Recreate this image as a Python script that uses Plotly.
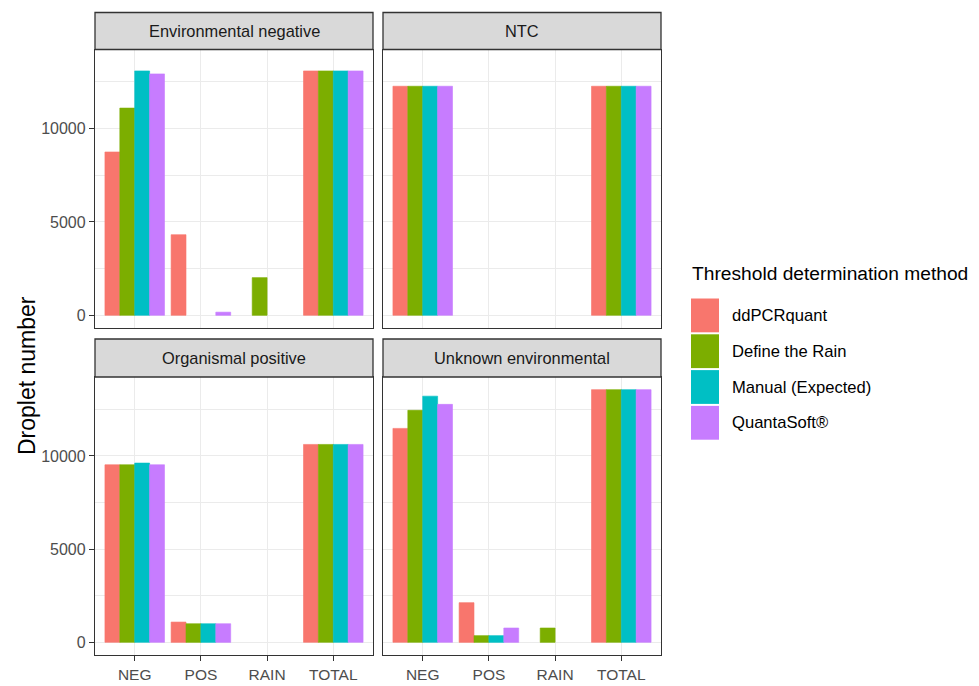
import plotly.graph_objects as go

# ---------------- data ----------------
categories = ["NEG", "POS", "RAIN", "TOTAL"]
methods = ["ddPCRquant", "Define the Rain", "Manual (Expected)", "QuantaSoft®"]
colors = ["#F8766D", "#7CAE00", "#00BFC4", "#C77CFF"]
facets = ["Environmental negative", "NTC", "Organismal positive", "Unknown environmental"]
y_ticks = [0, 5000, 10000]
y_tick_labels = ["0", "5000", "10000"]
y_minor_ticks = [2500, 7500, 12500]

# values per method (order of `methods`), per category (order of `categories`)
env_negative = [
    [8750, 4320, 0, 13090],
    [11100, 0, 2020, 13090],
    [13090, 0, 0, 13090],
    [12930, 170, 0, 13090],
]
ntc = [
    [12270, 0, 0, 12270],
    [12270, 0, 0, 12270],
    [12270, 0, 0, 12270],
    [12270, 0, 0, 12270],
]
organismal_positive = [
    [9530, 1090, 0, 10620],
    [9530, 1000, 0, 10620],
    [9620, 1000, 0, 10620],
    [9530, 1000, 0, 10620],
]
unknown_environmental = [
    [11480, 2130, 0, 13560],
    [12450, 360, 770, 13560],
    [13210, 360, 0, 13560],
    [12770, 770, 0, 13560],
]
facet_values = [env_negative, ntc, organismal_positive, unknown_environmental]

# ---------------- layout geometry (pixels) ----------------
W, H = 979, 686
col_px = [(95, 373), (383, 661)]
row_strip = [(12.5, 49.5), (339, 377)]
row_plot = [(49.5, 328), (377, 655)]

FONT = "Liberation Sans, Arial, sans-serif"


def fx(px):
    return px / W


def fy(py):
    return 1 - py / H


ymax = max(max(max(s) for s in fv) for fv in facet_values)
pad = 0.05 * ymax
y_range = [-pad, ymax + pad]

fig = go.Figure()
shapes = []
annotations = []

for i, (name, vals) in enumerate(zip(facets, facet_values)):
    r, c = divmod(i, 2)
    ax = "" if i == 0 else str(i + 1)
    for m, (meth, col) in enumerate(zip(methods, colors)):
        widths = [0.6 if v > 0 else 0 for v in vals[m]]
        fig.add_trace(go.Bar(
            x=categories, y=vals[m], name=meth,
            marker=dict(color=col, line=dict(width=widths, color=col)),
            xaxis="x" + ax, yaxis="y" + ax, showlegend=False,
        ))
    x0, x1 = col_px[c]
    p0, p1 = row_plot[r]
    bottom = r == 1
    left = c == 0
    fig.layout["xaxis" + ax] = dict(
        domain=[fx(x0), fx(x1)], anchor="y" + ax,
        type="category", categoryorder="array", categoryarray=categories,
        range=[-0.6, len(categories) - 0.4],
        showgrid=True, gridcolor="#EBEBEB", gridwidth=1.1,
        showline=True, mirror=True, linecolor="#333333", linewidth=1.3,
        ticks="outside" if bottom else "", ticklen=5, tickcolor="#333333", tickwidth=1.1,
        showticklabels=bottom,
        tickfont=dict(family=FONT, size=15.5, color="#4D4D4D"),
        zeroline=False, fixedrange=True,
    )
    fig.layout["yaxis" + ax] = dict(
        domain=[fy(p1), fy(p0)], anchor="x" + ax,
        range=y_range, tickvals=y_ticks, ticktext=y_tick_labels,
        showgrid=True, gridcolor="#EBEBEB", gridwidth=1.1,
        minor=dict(tickvals=y_minor_ticks, showgrid=True, gridcolor="#EBEBEB", gridwidth=0.6),
        showline=True, mirror=True, linecolor="#333333", linewidth=1.3,
        ticks="outside" if left else "", ticklen=5, tickcolor="#333333", tickwidth=1.1,
        showticklabels=left,
        tickfont=dict(family=FONT, size=16, color="#4D4D4D"),
        zeroline=False, fixedrange=True,
    )
    s0, s1 = row_strip[r]
    shapes.append(dict(type="rect", xref="paper", yref="paper",
                       x0=fx(x0), x1=fx(x1), y0=fy(s1), y1=fy(s0),
                       fillcolor="#D9D9D9", line=dict(color="#333333", width=1.3), layer="above"))
    annotations.append(dict(xref="paper", yref="paper", x=fx((x0 + x1) / 2), y=fy((s0 + s1) / 2),
                            text=name, showarrow=False, xanchor="center", yanchor="middle",
                            font=dict(family=FONT, size=16.4, color="#1A1A1A")))

# y axis title
annotations.append(dict(xref="paper", yref="paper", x=fx(27), y=fy(376), text="Droplet number",
                        textangle=-90, showarrow=False, xanchor="center", yanchor="middle",
                        font=dict(family=FONT, size=23, color="#000000")))

# legend (drawn manually to mimic ggplot keys)
annotations.append(dict(xref="paper", yref="paper", x=fx(690), y=fy(274),
                        text="Threshold determination method", showarrow=False,
                        xanchor="left", yanchor="middle",
                        font=dict(family=FONT, size=19.2, color="#000000")))
key_top, key_h = 297.5, 35.8
for k, (meth, col) in enumerate(zip(methods, colors)):
    t = key_top + k * key_h
    shapes.append(dict(type="rect", xref="paper", yref="paper",
                       x0=fx(691), x1=fx(719), y0=fy(t + key_h - 1), y1=fy(t + 1),
                       fillcolor=col, line=dict(width=0)))
    annotations.append(dict(xref="paper", yref="paper", x=fx(730), y=fy(t + key_h / 2),
                            text=meth, showarrow=False, xanchor="left", yanchor="middle",
                            font=dict(family=FONT, size=16.6, color="#000000")))

fig.update_layout(
    width=W, height=H, margin=dict(l=0, r=0, t=0, b=0),
    paper_bgcolor="white", plot_bgcolor="white",
    barmode="group", bargap=0.1, bargroupgap=0,
    shapes=shapes, annotations=annotations, showlegend=False,
    font=dict(family=FONT),
)

fig.write_html("out.html", config={"displayModeBar": False},
               post_script="document.body.style.margin='0';")
